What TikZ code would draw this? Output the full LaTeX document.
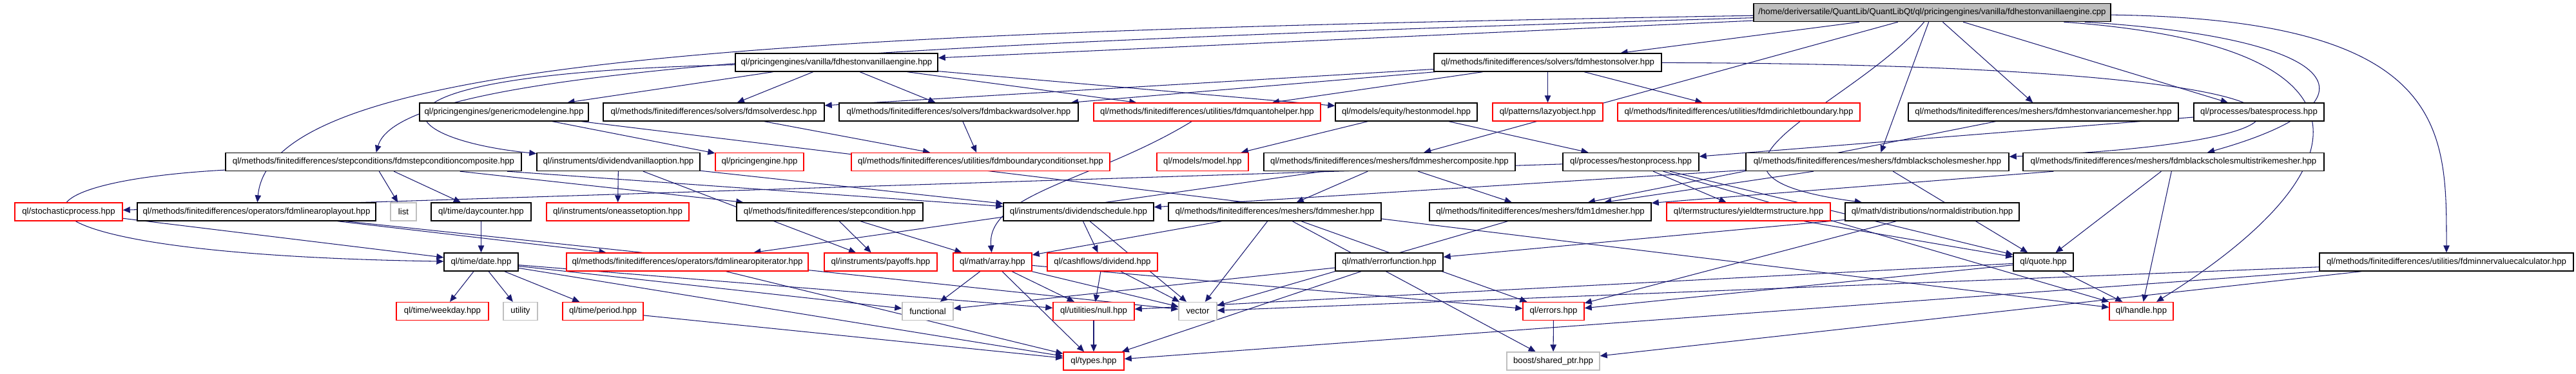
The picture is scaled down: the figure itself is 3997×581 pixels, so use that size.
\documentclass[tikz,border=0pt]{standalone}
\usepackage{fontspec}
\setmainfont{Liberation Sans}
\usetikzlibrary{arrows.meta,backgrounds}
\definecolor{edgeblue}{HTML}{191970}
\definecolor{sysgray}{HTML}{BFBFBF}

\begin{document}
\begin{tikzpicture}[x=0.02cm, y=-0.02cm,
  every node/.style={font=\fontsize{7.5}{9}\selectfont, inner sep=0pt, minimum height=0.56cm},
  hdr/.style={draw=black, line width=0.8pt, fill=white},
  undoc/.style={draw=red, line width=0.8pt, fill=white},
  sysinc/.style={draw=sysgray, line width=0.8pt, fill=white},
  dep/.style={draw=edgeblue, line width=0.6pt, -{Triangle[length=2.2mm, width=1.9mm]}}]
  \useasboundingbox (0,0) rectangle (3997,581);
  % the file itself
  \node[hdr, fill=sysgray, minimum width=554*0.02cm] (root) at (2998,19.5)
    {/home/deriversatile/QuantLib/QuantLibQt/ql/pricingengines/vanilla/fdhestonvanillaengine.cpp};
  % documented headers
  \foreach \n/\x/\y/\w/\t in {
    hvengine/1298/97/314/{ql/pricingengines/vanilla/fdhestonvanillaengine.hpp},
    hsolver/2401.5/97/353/{ql/methods/finitedifferences/solvers/fdmhestonsolver.hpp},
    genericme/782/174/262/{ql/pricingengines/genericmodelengine.hpp},
    solverdesc/1107.5/174/343/{ql/methods/finitedifferences/solvers/fdmsolverdesc.hpp},
    backsolver/1487.5/174/371/{ql/methods/finitedifferences/solvers/fdmbackwardsolver.hpp},
    hestonmodel/2182/174/220/{ql/models/equity/hestonmodel.hpp},
    varmesher/3170.5/174/419/{ql/methods/finitedifferences/meshers/fdmhestonvariancemesher.hpp},
    bates/3505/174/202/{ql/processes/batesprocess.hpp},
    stepcomp/579.5/251.5/459/{ql/methods/finitedifferences/stepconditions/fdmstepconditioncomposite.hpp},
    divvanilla/959.5/251.5/253/{ql/instruments/dividendvanillaoption.hpp},
    meshcomp/2156/251.5/390/{ql/methods/finitedifferences/meshers/fdmmeshercomposite.hpp},
    hestonproc/2530.5/251.5/211/{ql/processes/hestonprocess.hpp},
    bsmesher/2913/251.5/408/{ql/methods/finitedifferences/meshers/fdmblackscholesmesher.hpp},
    bsmulti/3372.5/251.5/467/{ql/methods/finitedifferences/meshers/fdmblackscholesmultistrikemesher.hpp},
    layout/398/329/370/{ql/methods/finitedifferences/operators/fdmlinearoplayout.hpp},
    daycounter/746.5/329/155/{ql/time/daycounter.hpp},
    stepcond/1287.5/329/289/{ql/methods/finitedifferences/stepcondition.hpp},
    divsched/1673.5/329/233/{ql/instruments/dividendschedule.hpp},
    mesher/1978/329/330/{ql/methods/finitedifferences/meshers/fdmmesher.hpp},
    mesher1d/2390/329/344/{ql/methods/finitedifferences/meshers/fdm1dmesher.hpp},
    normaldist/2998/329/270/{ql/math/distributions/normaldistribution.hpp},
    date/746.5/407/115/{ql/time/date.hpp},
    errfunc/2155.5/407/167/{ql/math/errorfunction.hpp},
    quote/3170.5/407/93/{ql/quote.hpp},
    innerval/3796/407/394/{ql/methods/finitedifferences/utilities/fdminnervaluecalculator.hpp}} {
    \node[hdr, minimum width=\w*0.02cm] (\n) at (\x,\y) {\t};
  }
  % undocumented headers
  \foreach \n/\x/\y/\w/\t in {
    quanto/1873/174/352/{ql/methods/finitedifferences/utilities/fdmquantohelper.hpp},
    lazy/2401.5/174/171/{ql/patterns/lazyobject.hpp},
    dirichlet/2698/174/376/{ql/methods/finitedifferences/utilities/fdmdirichletboundary.hpp},
    pengine/1178.5/251.5/137/{ql/pricingengine.hpp},
    bcset/1521.5/251.5/401/{ql/methods/finitedifferences/utilities/fdmboundaryconditionset.hpp},
    model/1866/251.5/142/{ql/models/model.hpp},
    stochproc/106.5/329/167/{ql/stochasticprocess.hpp},
    oneasset/958.5/329/221/{ql/instruments/oneassetoption.hpp},
    yieldts/2713/329/254/{ql/termstructures/yieldtermstructure.hpp},
    opiter/1066.5/407/375/{ql/methods/finitedifferences/operators/fdmlinearopiterator.hpp},
    payoffs/1366.5/407/175/{ql/instruments/payoffs.hpp},
    array/1540/407/122/{ql/math/array.hpp},
    dividend/1710.5/407/171/{ql/cashflows/dividend.hpp},
    weekday/686.5/483.5/143/{ql/time/weekday.hpp},
    period/935.5/483.5/125/{ql/time/period.hpp},
    null/1697/483.5/126/{ql/utilities/null.hpp},
    errors/2410.5/483.5/95/{ql/errors.hpp},
    handle/3322.5/483.5/99/{ql/handle.hpp},
    types/1697/561/94/{ql/types.hpp}} {
    \node[undoc, minimum width=\w*0.02cm] (\n) at (\x,\y) {\t};
  }
  % system headers
  \foreach \n/\x/\y/\w/\t in {
    list/626/329/40/{list},
    utility/807.5/483.5/53/{utility},
    functional/1439.5/483.5/79/{functional},
    vector/1858.5/483.5/59/{vector},
    sharedptr/2410/561/144/{boost/shared\_ptr.hpp}} {
    \node[sysinc, minimum width=\w*0.02cm] (\n) at (\x,\y) {\t};
  }
  % includes
  \begin{scope}[on background layer]
    \foreach \s/\t in {
      root/hvengine, root/hsolver, root/meshcomp,
      root/varmesher, root/bates, root/bsmesher,
      hvengine/genericme, hvengine/solverdesc, hvengine/backsolver, hvengine/quanto,
      hvengine/hestonmodel,
      hsolver/solverdesc, hsolver/backsolver, hsolver/quanto, hsolver/lazy,
      hsolver/dirichlet,
      genericme/pengine, genericme/handle,
      solverdesc/bcset, backsolver/bcset,
      hestonmodel/model, hestonmodel/hestonproc,
      varmesher/mesher1d, bates/hestonproc,
      stepcomp/list, stepcomp/daycounter, stepcomp/stepcond, stepcomp/divsched,
      divvanilla/oneasset, divvanilla/divsched, divvanilla/payoffs,
      meshcomp/mesher, meshcomp/mesher1d, meshcomp/opiter,
      hestonproc/stochproc, hestonproc/yieldts, hestonproc/quote, hestonproc/handle,
      bsmesher/mesher1d, bsmesher/divsched, bsmesher/quote,
      bsmulti/mesher1d, bsmulti/quote, bsmulti/handle,
      stochproc/date, layout/opiter, layout/vector, daycounter/date,
      stepcond/payoffs, stepcond/array,
      divsched/dividend, divsched/vector,
      mesher/array, mesher/vector, mesher/errors, mesher/sharedptr,
      mesher1d/vector, yieldts/quote,
      normaldist/errfunc, normaldist/errors,
      date/weekday, date/utility, date/period, date/functional, date/null, date/types,
      array/functional, array/null, array/vector, array/types, array/errors,
      dividend/null, dividend/vector,
      errfunc/functional, errfunc/types,
      quote/null, quote/errors, quote/handle,
      innerval/vector, innerval/types, innerval/sharedptr,
      period/types, null/types, errors/sharedptr, opiter/types} {
      \draw[dep] (\s) -- (\t);
    }
    % routed round other boxes
    \draw[dep] (root) .. controls (1200,50) and (420,90) .. (layout);
    \draw[dep] (root) .. controls (1300,70) and (620,110) .. (stepcomp);
    \draw[dep] (hvengine) .. controls (520,115) and (600,215) .. (divvanilla);
    \draw[dep] (stepcomp) .. controls (-30,285) and (-20,395) .. (date);
    \draw[dep] (root) .. controls (2870,170) and (2560,270) .. (normaldist);
    \draw[dep] (root) .. controls (3800,30) and (3796,200) .. (innerval);
    \draw[dep] (root) .. controls (3650,60) and (3700,160) .. (bsmulti);
    \draw[dep] (root) .. controls (3700,70) and (3680,260) .. (handle);
    \draw[dep] (hsolver) .. controls (3700,100) and (3700,220) .. (bsmesher);
    \draw[dep] (quanto) .. controls (1700,280) and (1530,300) .. (array);
  \end{scope}
\end{tikzpicture}
\end{document}
